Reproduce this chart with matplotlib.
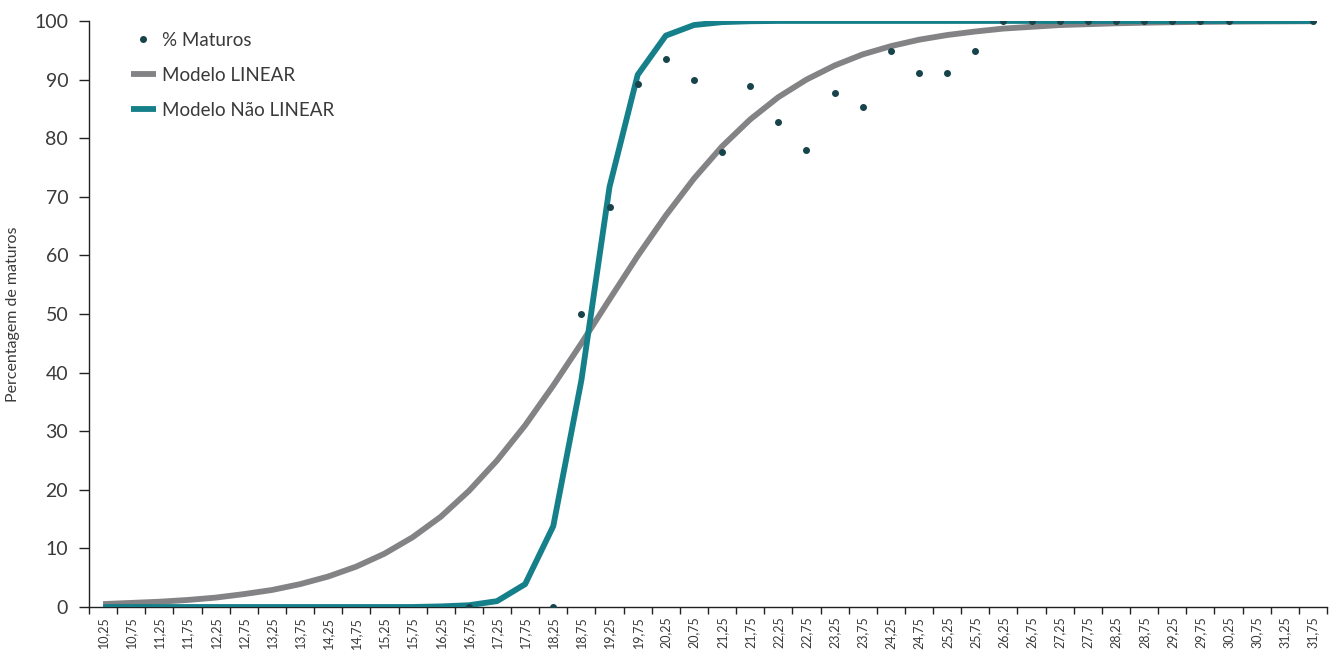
import numpy as np
import matplotlib.pyplot as plt

plt.rcParams['font.family'] = ['Lato', 'DejaVu Sans']

# comprimento (classes) - eixo de categorias
classes = ['10,25', '10,75', '11,25', '11,75', '12,25', '12,75', '13,25', '13,75',
           '14,25', '14,75', '15,25', '15,75', '16,25', '16,75', '17,25', '17,75',
           '18,25', '18,75', '19,25', '19,75', '20,25', '20,75', '21,25', '21,75',
           '22,25', '22,75', '23,25', '23,75', '24,25', '24,75', '25,25', '25,75',
           '26,25', '26,75', '27,25', '27,75', '28,25', '28,75', '29,25', '29,75',
           '30,25', '30,75', '31,25', '31,75']

nan = np.nan
maturos = [nan, nan, nan, nan, nan, nan, nan, nan,
           nan, nan, nan, nan, nan, 0, nan, nan,
           0, 50, 68.3, 89.2, 93.5, 90, 77.6, 88.9,
           82.8, 78, 87.7, 85.3, 94.9, 91.1, 91.1, 94.9,
           100, 100, 100, 100, 100, 100, 100, 100,
           100, nan, nan, 100]

modelo_linear = [0.5, 0.7, 0.9, 1.2, 1.6, 2.2, 2.9, 3.9,
                 5.2, 6.9, 9.1, 11.9, 15.4, 19.8, 25.0, 31.0,
                 37.8, 45.0, 52.5, 59.9, 66.8, 73.1, 78.6, 83.2,
                 87.0, 90.0, 92.4, 94.3, 95.7, 96.8, 97.6, 98.2,
                 98.7, 99.0, 99.3, 99.45, 99.6, 99.7, 99.78, 99.84,
                 99.88, 99.91, 99.93, 99.95]

modelo_nao_linear = [0, 0, 0, 0, 0, 0, 0, 0,
                     0, 0, 0, 0, 0.1, 0.3, 1.0, 3.9,
                     13.8, 38.7, 71.7, 90.8, 97.5, 99.3, 99.8, 99.95,
                     100, 100, 100, 100, 100, 100, 100, 100,
                     100, 100, 100, 100, 100, 100, 100, 100,
                     100, 100, 100, 100]

txt = '#3a3a3a'
x = np.arange(len(classes))

fig = plt.figure(figsize=(13.37, 6.57), dpi=100)
ax = fig.add_axes([0.0666, 0.0761, 0.9259, 0.892])

ax.plot(x, modelo_linear, color='#838385', lw=4.2, label='Modelo LINEAR', solid_capstyle='butt', zorder=2)
ax.plot(x, modelo_nao_linear, color='#157F8A', lw=4.2, label='Modelo Não LINEAR', solid_capstyle='butt', zorder=3)
ax.plot(x, maturos, 'o', color='#17444A', ms=4, label='% Maturos', zorder=4)

ax.set_xlim(-0.5, len(classes) - 0.5)
ax.set_ylim(0, 100)
ax.set_yticks(np.arange(0, 101, 10))

ax.set_xticks(np.arange(len(classes) + 1) - 0.5)
ax.set_xticklabels([])
ax.set_xticks(x, minor=True)
ax.set_xticklabels(classes, minor=True, rotation=90, fontsize=9, color=txt)
ax.tick_params(axis='x', which='major', length=5, width=1, color='#222222')
ax.tick_params(axis='x', which='minor', length=0, pad=7)
ax.tick_params(axis='y', length=7, width=1, color='#222222', labelsize=14, labelcolor=txt, pad=8)

for s in ['top', 'right']:
    ax.spines[s].set_visible(False)
for s in ['left', 'bottom']:
    ax.spines[s].set_color('#222222')
    ax.spines[s].set_linewidth(1)

ax.set_ylabel('Percentagem de maturos', fontsize=11.5, color=txt, labelpad=10)

h, l = ax.get_legend_handles_labels()
order = [2, 0, 1]
ax.legend([h[i] for i in order], [l[i] for i in order], loc='upper left',
          bbox_to_anchor=(0.02, 1.01), frameon=False, fontsize=13.5,
          labelcolor=txt, handlelength=1.35, handletextpad=0.3, labelspacing=0.95)

fig.savefig('out.png', dpi=100)
